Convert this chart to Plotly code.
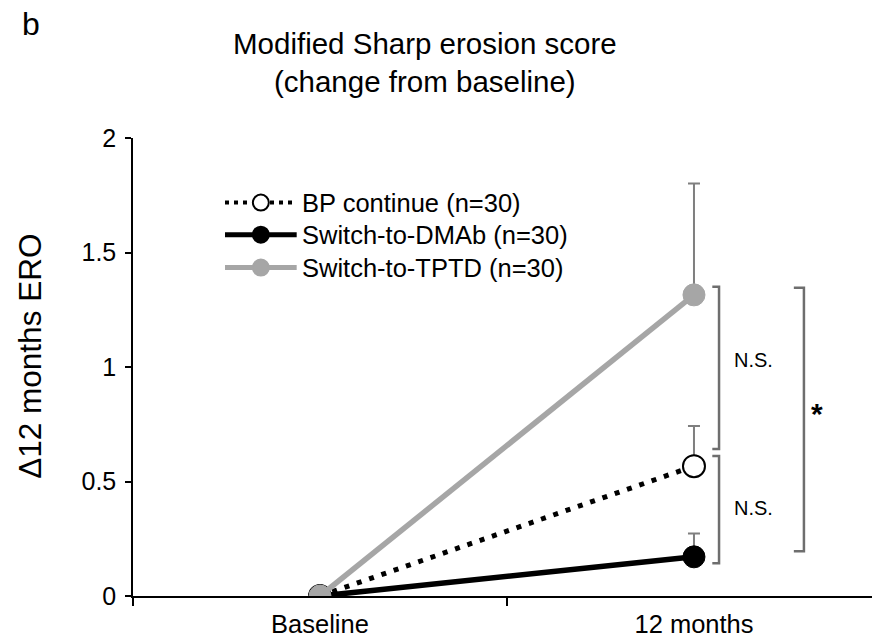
import plotly.graph_objects as go

categories = ["Baseline", "12 months"]
bp_values = [0.0, 0.567]
bp_err = [0.0, 0.175]
dmab_values = [0.0, 0.171]
dmab_err = [0.0, 0.102]
tptd_values = [0.0, 1.315]
tptd_err = [0.0, 0.486]
series_names = ["BP continue (n=30)", "Switch-to-DMAb (n=30)", "Switch-to-TPTD (n=30)"]
y_ticks = [0, 0.5, 1, 1.5, 2]
y_ticklabels = ["0", "0.5", "1", "1.5", "2"]

FONT = "Liberation Sans, Arial, sans-serif"
GRAY = "#A6A6A6"
ERR = "#7F7F7F"
BR = "#6E6E6E"

fig = go.Figure()

def err(arr):
    return dict(type="data", array=arr, arrayminus=[0, 0], symmetric=False,
                color=ERR, thickness=2, width=6)

fig.add_trace(go.Scatter(x=categories, y=bp_values, mode="lines+markers", name=series_names[0],
                         line=dict(color="black", width=5, dash="5px,8px"),
                         marker=dict(size=22, color="white", line=dict(color="black", width=2)),
                         error_y=err(bp_err), showlegend=False))
fig.add_trace(go.Scatter(x=categories, y=dmab_values, mode="lines+markers", name=series_names[1],
                         line=dict(color="black", width=5.5),
                         marker=dict(size=22, color="black", line=dict(color="black", width=1)),
                         error_y=err(dmab_err), showlegend=False))
fig.add_trace(go.Scatter(x=categories, y=tptd_values, mode="lines+markers", name=series_names[2],
                         line=dict(color=GRAY, width=5.5),
                         marker=dict(size=22, color=GRAY, line=dict(color=GRAY, width=1)),
                         error_y=err(tptd_err), showlegend=False))

shapes = []
# significance brackets
def bracket(x0, x1, y0, y1):
    return dict(type="path", xref="x", yref="y",
                path=f"M {x0},{y1} L {x1},{y1} L {x1},{y0} L {x0},{y0}",
                line=dict(color=BR, width=2.5))
shapes.append(bracket(1.049, 1.067, 0.642, 1.35))
shapes.append(bracket(1.049, 1.067, 0.143, 0.611))
shapes.append(bracket(1.267, 1.294, 0.195, 1.346))

# custom legend
leg_y = [0.859, 0.789, 0.717]
lx0, lx1, lxm, ltext = 0.1245, 0.2215, 0.173, 0.226
leg_styles = [
    (dict(color="black", width=4, dash="4px,5px"), "white", "black"),
    (dict(color="black", width=5), "black", "black"),
    (dict(color=GRAY, width=5), GRAY, GRAY),
]
annotations = []
for yy, (ln, fill, edge), name in zip(leg_y, leg_styles, series_names):
    shapes.append(dict(type="line", xref="paper", yref="paper", x0=lx0, x1=lx1, y0=yy, y1=yy, line=ln))
    shapes.append(dict(type="circle", xref="paper", yref="paper", xsizemode="pixel", ysizemode="pixel",
                       xanchor=lxm, yanchor=yy, x0=-8, x1=8, y0=-8, y1=8,
                       fillcolor=fill, line=dict(color=edge, width=2)))
    annotations.append(dict(xref="paper", yref="paper", x=ltext, y=yy, text=name, showarrow=False,
                            xanchor="left", yanchor="middle", font=dict(size=25.5, color="black", family=FONT)))

annotations += [
    dict(xref="x", yref="y", x=1.16, y=1.031, text="N.S.", showarrow=False,
         font=dict(size=20, color="black", family=FONT)),
    dict(xref="x", yref="y", x=1.16, y=0.384, text="N.S.", showarrow=False,
         font=dict(size=20, color="black", family=FONT)),
    dict(xref="x", yref="y", x=1.33, y=0.795, text="<b>*</b>", showarrow=False,
         font=dict(size=30, color="black", family=FONT)),
    dict(xref="paper", yref="paper", x=-0.138, y=1.25, text="b", showarrow=False,
         xanchor="center", yanchor="middle", font=dict(size=32, color="black", family=FONT)),
    dict(xref="paper", yref="paper", x=0.395, y=1.165, text="Modified Sharp erosion score<br>(change from baseline)",
         showarrow=False, xanchor="center", yanchor="middle",
         font=dict(size=29.5, color="black", family=FONT)),
    dict(xref="paper", yref="paper", x=-0.139, y=0.523, text="Δ12 months ERO", showarrow=False,
         textangle=-90, xanchor="center", yanchor="middle",
         font=dict(size=31.5, color="black", family=FONT)),
]

fig.update_layout(
    width=872, height=640,
    margin=dict(l=133, r=0, t=138, b=44, pad=0),
    paper_bgcolor="white", plot_bgcolor="white",
    font=dict(family=FONT, color="black"),
    shapes=shapes, annotations=annotations,
    xaxis=dict(type="category", range=[-0.5, 1.476], showline=True, linecolor="black", linewidth=1.5,
               ticks="outside", tickson="boundaries", ticklen=8, tickcolor="black", tickwidth=1.5,
               showgrid=False, zeroline=False, automargin=False, ticklabelstandoff=5,
               tickfont=dict(size=25.5, family=FONT, color="black")),
    yaxis=dict(range=[0, 2], tickvals=y_ticks, ticktext=y_ticklabels, showline=True, linecolor="black",
               linewidth=1.5, ticks="outside", ticklen=6, tickcolor="black", tickwidth=1.5,
               showgrid=False, zeroline=False, automargin=False, ticklabelstandoff=4,
               tickfont=dict(size=25, family=FONT, color="black")),
)

fig.write_html("out.html")
